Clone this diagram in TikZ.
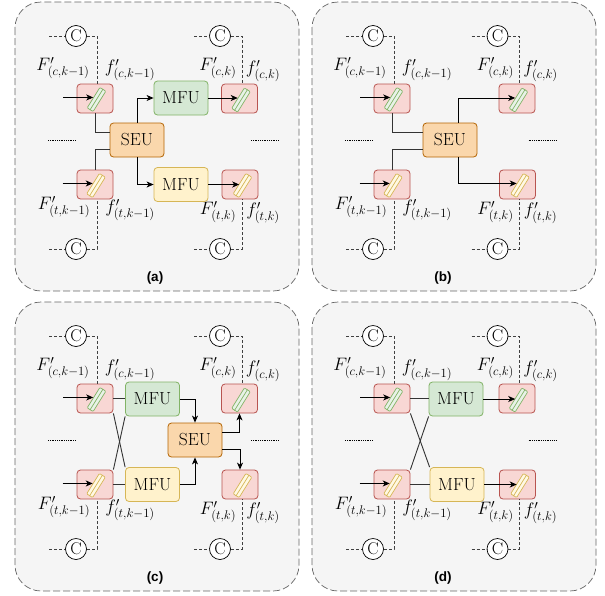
\RequirePackage{fix-cm}
\documentclass[tikz,border=0pt]{standalone}
\usepackage{fontspec}
\newfontfamily\capfont{Liberation Sans}
\usepackage{xcolor}
\usetikzlibrary{arrows.meta,calc}

\definecolor{panelfill}{HTML}{F5F5F5}
\definecolor{panelline}{HTML}{666666}
\definecolor{boxfill}{HTML}{F8D7D4}
\definecolor{boxline}{HTML}{B85450}
\definecolor{greenfill}{HTML}{D5E8D4}
\definecolor{greenline}{HTML}{82B366}
\definecolor{yellowfill}{HTML}{FFF2CC}
\definecolor{yellowline}{HTML}{D6B656}
\definecolor{seufill}{HTML}{FAD7AC}
\definecolor{seuline}{HTML}{B46504}

\tikzset{
  unit/.style={rectangle,rounded corners=3.5pt,inner sep=0pt,line width=0.8pt,font=\fontsize{17.5}{20}\selectfont},
  mfugreen/.style={unit,draw=greenline,fill=greenfill,minimum width=54pt,minimum height=34pt},
  mfuyellow/.style={unit,draw=yellowline,fill=yellowfill,minimum width=54pt,minimum height=34pt},
  seubox/.style={unit,draw=seuline,fill=seufill,minimum width=54pt,minimum height=34pt},
  featbox/.style={unit,draw=boxline,fill=boxfill,minimum width=36pt,minimum height=29pt},
  bargreen/.style={rectangle,rounded corners=1pt,rotate=58,inner sep=0pt,minimum width=24pt,minimum height=7pt,draw=greenline,line width=0.7pt,fill=greenfill!55!white,
    append after command={(\tikzlastnode.west) edge[draw=greenline,line width=0.7pt] (\tikzlastnode.east)}},
  baryellow/.style={rectangle,rounded corners=1pt,rotate=58,inner sep=0pt,minimum width=24pt,minimum height=7pt,draw=yellowline,line width=0.7pt,fill=yellowfill!55!white,
    append after command={(\tikzlastnode.west) edge[draw=yellowline,line width=0.7pt] (\tikzlastnode.east)}},
  concat/.style={circle,draw,fill=white,line width=0.7pt,minimum size=21pt,inner sep=0pt,font=\fontsize{17}{20}\selectfont},
  feat/.style={inner sep=0pt,font=\fontsize{18}{21}\selectfont},
  skip/.style={densely dashed,line width=0.7pt,draw=black!75},
  flow/.style={line width=0.9pt,draw=black!80},
  flowarrow/.style={line width=0.9pt,-{Stealth[length=7pt,width=6pt,inset=2pt]}},
  gap/.style={line width=0.6pt,dash pattern=on 0.8pt off 1pt},
  panel/.style={rounded corners=26pt,draw=panelline,fill=panelfill,line width=0.7pt,dash pattern=on 7pt off 3pt},
  caption/.style={inner sep=0pt,font=\capfont\bfseries\fontsize{13.5}{16}\selectfont}
}

\begin{document}
\begin{tikzpicture}[x=1pt,y=-1pt]
  \useasboundingbox (0,0) rectangle (605,595);

  % the parts that all four panels share
  \foreach \pn/\lx/\rx/\dy/\cx/\cy in {a/0/0/0/155/278,b/297/277.5/0/443/278,c/0/0/300/155/578,d/297/277.5/300/443/578}{
    \draw[panel] (15+\lx,2+\dy) rectangle (299+\lx,291+\dy);

    \node[featbox] (boxtl\pn) at (95+\lx,98.5+\dy) {};
    \node[featbox] (boxtr\pn) at (239.5+\rx,98.5+\dy) {};
    \node[featbox] (boxbl\pn) at (95+\lx,184.5+\dy) {};
    \node[featbox] (boxbr\pn) at (240+\rx,184.5+\dy) {};

    \node[bargreen] (bartl\pn) at (96.5+\lx,99.5+\dy) {};
    \node[bargreen] (bartr\pn) at (241+\rx,100+\dy) {};
    \node[baryellow] (barbl\pn) at (96+\lx,185.5+\dy) {};
    \node[baryellow] (barbr\pn) at (242.5+\rx,185.5+\dy) {};

    \node[concat] (ctl\pn) at (76+\lx,36+\dy) {C};
    \node[concat] (ctr\pn) at (220+\rx,36+\dy) {C};
    \node[concat] (cbl\pn) at (76+\lx,249+\dy) {C};
    \node[concat] (cbr\pn) at (220+\rx,249+\dy) {C};

    % dashed skip lines
    \coordinate (stl\pn) at (49+\lx,36+\dy);
    \coordinate (str\pn) at (194+\rx,36+\dy);
    \coordinate (sbl\pn) at (49+\lx,249+\dy);
    \coordinate (sbr\pn) at (194+\rx,249+\dy);
    \draw[skip] (stl\pn) -- (ctl\pn.west);
    \draw[skip] (str\pn) -- (ctr\pn.west);
    \draw[skip] (sbl\pn) -- (cbl\pn.west);
    \draw[skip] (sbr\pn) -- (cbr\pn.west);
    \draw[skip] (ctl\pn.east) -| ([xshift=2pt]boxtl\pn.north);
    \draw[skip] (ctr\pn.east) -| ([xshift=2.5pt]boxtr\pn.north);
    \draw[skip] (cbl\pn.east) -| ([xshift=2pt]boxbl\pn.south);
    \draw[skip] (cbr\pn.east) -| ([xshift=2pt]boxbr\pn.south);

    % input arrows
    \coordinate (intl\pn) at ([xshift=-30pt]bartl\pn.north);
    \coordinate (inbl\pn) at ([xshift=-30pt]barbl\pn.north);
    \draw[flowarrow] (intl\pn) -- (bartl\pn.north);
    \draw[flowarrow] (inbl\pn) -- (barbl\pn.north);

    % dots between the rows
    \coordinate (dotl\pn) at (48+\lx,140+\dy);
    \coordinate (dotm\pn) at (76+\lx,140+\dy);
    \coordinate (dotr\pn) at (251+\rx,140+\dy);
    \coordinate (dots\pn) at (279+\rx,140+\dy);
    \draw[gap] (dotl\pn) -- (dotm\pn);
    \draw[gap] (dotr\pn) -- (dots\pn);

    \node[feat] (ftl\pn) at (63+\lx,68+\dy) {$F'_{(c,k-1)}$};
    \node[feat] (gtl\pn) at (130+\lx,70+\dy) {$f'_{(c,k-1)}$};
    \node[feat] (ftr\pn) at (218+\rx,68+\dy) {$F'_{(c,k)}$};
    \node[feat] (gtr\pn) at (263+\rx,71+\dy) {$f'_{(c,k)}$};
    \node[feat] (fbl\pn) at (64+\lx,207+\dy) {$F'_{(t,k-1)}$};
    \node[feat] (gbl\pn) at (130+\lx,210+\dy) {$f'_{(t,k-1)}$};
    \node[feat] (fbr\pn) at (218+\rx,212+\dy) {$F'_{(t,k)}$};
    \node[feat] (gbr\pn) at (263+\rx,213+\dy) {$f'_{(t,k)}$};

    \node[caption] (cap\pn) at (\cx,\cy) {(\pn)};
  }

  % panel a
  \node[seubox] (seua) at (137,140) {SEU};
  \node[mfugreen] (mfuga) at (181,98) {MFU};
  \node[mfuyellow] (mfuya) at (181,184.5) {MFU};
  \draw[flow] (boxtla.south) |- ([yshift=8pt]seua.west);
  \draw[flow] (boxbla.north) |- ([yshift=-9pt]seua.west);
  \draw[flowarrow] (seua.north) |- (mfuga.west);
  \draw[flowarrow] (seua.south) |- (mfuya.west);
  \draw[flowarrow] (mfuga.east) -- (mfuga.east -| bartra.north);
  \draw[flowarrow] (mfuya.east) -- (mfuya.east -| barbra.north);

  % panel b
  \node[seubox] (seub) at (450,140) {SEU};
  \draw[flow] (boxtlb.south) |- ([yshift=8pt]seub.west);
  \draw[flow] (boxblb.north) |- ([yshift=-9pt]seub.west);
  \draw[flowarrow] ([xshift=8pt]seub.north) |- (bartrb.north);
  \draw[flowarrow] ([xshift=8pt]seub.south) |- (barbrb.north);

  % panel c
  \node[mfugreen] (mfugc) at (152.5,399) {MFU};
  \node[mfuyellow] (mfuyc) at (152.5,484.5) {MFU};
  \node[seubox] (seuc) at (195,440) {SEU};
  \draw[flow] (boxtlc.east) -- (mfugc.west |- boxtlc.east);
  \draw[flow] (boxblc.east) -- (mfuyc.west |- boxblc.east);
  \draw[flow] (boxtlc.south east) -- (mfuyc.north west);
  \draw[flow] (boxblc.north east) -- (mfugc.south west);
  \draw[flowarrow] (mfugc.east) -| (seuc.north);
  \draw[flowarrow] (mfuyc.east) -| (seuc.south);
  \draw[flowarrow] ([yshift=8pt]seuc.east) -| (boxtrc.south);
  \draw[flowarrow] ([yshift=-9pt]seuc.east) -| (boxbrc.north);

  % panel d
  \node[mfugreen] (mfugd) at (456,399) {MFU};
  \node[mfuyellow] (mfuyd) at (457,484.5) {MFU};
  \draw[flow] (boxtld.east) -- (mfugd.west |- boxtld.east);
  \draw[flow] (boxbld.east) -- (mfuyd.west |- boxbld.east);
  \draw[flow] (boxtld.south east) -- (mfuyd.north west);
  \draw[flow] (boxbld.north east) -- (mfugd.south west);
  \draw[flowarrow] (mfugd.east) -- (mfugd.east -| bartrd.north);
  \draw[flowarrow] (mfuyd.east) -- (mfuyd.east -| barbrd.north);
\end{tikzpicture}
\end{document}
